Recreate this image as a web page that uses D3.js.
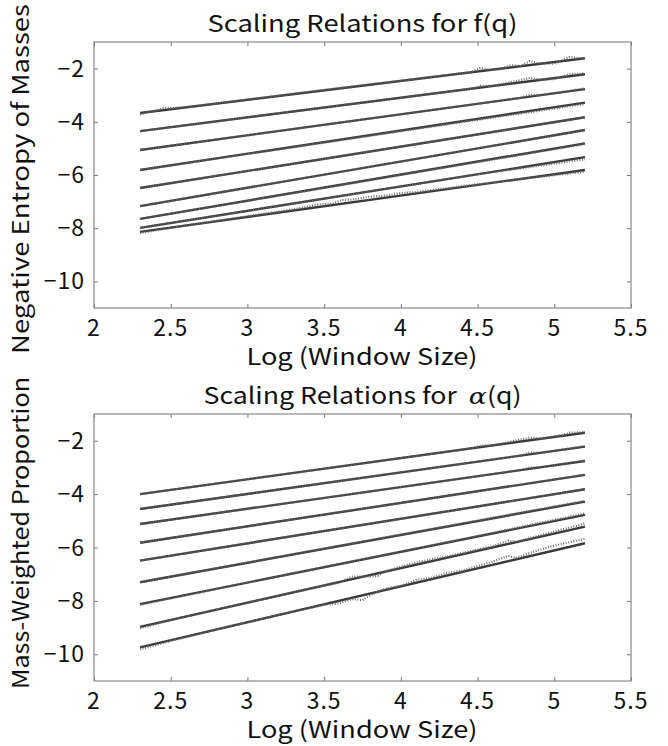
<!DOCTYPE html>
<html lang="en">

<head>
  <meta charset="UTF-8" />
  <title>Scaling relations</title>
  <script src="https://d3js.org/d3.v7.min.js"></script>
  <style>
    * {
      margin: 0;
      padding: 0;
    }

    body {
      background: #fff;
    }

    text {
      font-family: "Noto Sans CJK JP", "Noto Sans", sans-serif;
      fill: #111;
    }
  </style>
</head>

<body>
  <script>
    // x ticks / y ticks shared by both panels
    const xTicks = [2, 2.5, 3, 3.5, 4, 4.5, 5, 5.5];
    const yTicks = [-10, -8, -6, -4, -2];
    const xStart = 2.3, xEnd = 5.2;

    // fitted lines: [value at x=2.3, value at x=5.2]
    const fitF = [[-3.67, -1.61], [-4.35, -2.21], [-5.06, -2.77], [-5.81, -3.28], [-6.49, -3.83],
                  [-7.17, -4.31], [-7.65, -4.81], [-7.99, -5.33], [-8.14, -5.81]];
    const fitA = [[-4.00, -1.70], [-4.56, -2.22], [-5.12, -2.76], [-5.82, -3.28], [-6.49, -3.82],
                  [-7.30, -4.28], [-8.12, -4.78], [-8.97, -5.22], [-9.74, -5.84]];

    const obsF = [
      [[2.3, -0.05], [2.4, 0.02], [2.45, 0.08], [2.5, 0.05], [2.6, 0], [3.5, 0.02], [4.45, 0], [4.52, 0.12], [4.58, 0],
       [4.65, -0.02], [4.72, 0.08], [4.78, 0], [4.84, 0.15], [4.9, 0.02], [5.0, -0.06], [5.1, 0.12], [5.15, 0.05], [5.2, 0]],
      [[2.3, 0], [4.45, 0], [4.52, 0.06], [4.6, 0], [4.84, 0.12], [4.92, 0], [5.0, -0.04], [5.1, 0.08], [5.2, 0.02]],
      [[2.3, 0], [4.78, 0], [4.84, 0.07], [4.92, 0], [5.2, 0.03]],
      [[2.3, 0], [5.2, -0.05]],
      [[2.3, 0], [5.2, 0]],
      [[2.3, 0], [5.2, 0]],
      [[2.3, 0], [5.2, -0.03]],
      [[2.3, 0], [4.5, 0], [5.2, -0.08]],
      [[2.3, -0.04], [2.6, 0], [3.0, 0.03], [3.3, 0.05], [3.45, 0.1], [3.55, 0.06], [3.62, 0.14], [3.7, 0.1], [3.8, 0.12],
       [3.9, 0.08], [4.0, 0.1], [4.1, 0.05], [4.3, 0.04], [4.6, 0.02], [4.9, -0.02], [5.2, -0.07]]
    ];
    const obsA = [
      [[2.3, 0], [4.45, 0], [4.52, 0.05], [4.6, 0], [4.84, 0.1], [4.92, 0], [5.05, 0.03], [5.1, 0.08], [5.2, 0.02]],
      [[2.3, 0], [4.78, 0], [4.84, 0.07], [4.92, 0], [5.2, 0.02]],
      [[2.3, 0], [4.78, 0], [4.84, 0.05], [4.92, 0], [5.2, 0.02]],
      [[2.3, 0], [5.2, 0]],
      [[2.3, 0], [5.2, 0]],
      [[2.3, 0], [5.2, 0.03]],
      [[2.3, -0.03], [3.0, 0], [4.5, 0.02], [5.2, 0.06]],
      [[2.3, -0.05], [2.6, 0], [3.4, 0], [3.6, -0.03], [3.68, 0.1], [3.75, 0], [3.85, -0.1], [3.9, 0.02], [4.1, 0.08],
       [4.3, 0.05], [4.6, 0.05], [4.7, 0.12], [4.75, 0.02], [4.9, 0.05], [5.2, 0.12]],
      [[2.3, -0.08], [2.5, -0.03], [2.8, 0], [3.2, 0], [3.5, -0.02], [3.6, -0.1], [3.68, -0.05], [3.75, -0.18], [3.8, -0.06],
       [3.9, 0.05], [4.0, 0.02], [4.1, 0.1], [4.2, 0.05], [4.3, 0.1], [4.4, 0.05], [4.6, 0.12], [4.7, 0.2], [4.75, 0.05],
       [4.9, 0.15], [5.0, 0.18], [5.2, 0.17]]
    ];

    const [w, h] = [668, 746];
    const [left, right] = [94, 631];

    const svg = d3.select('body').append('svg')
      .attr('width', w)
      .attr('height', h);

    const xScale = d3.scaleLinear().domain([2, 5.5]).range([left, right]);

    function panel(top, bottom, title, titleLen, ylabel, ylabelLen, ylabelY, fits, obs) {
      const yScale = d3.scaleLinear().domain([-11, -1]).range([bottom, top]);
      const g = svg.append('g');

      // box axes with inward ticks (all four sides)
      const tick = 4;
      const axStyle = sel => {
        sel.select('.domain').remove();
        sel.selectAll('.tick line').attr('stroke', '#777');
        sel.selectAll('.tick text').remove();
      };
      g.append('g').attr('transform', `translate(0,${bottom})`)
        .call(d3.axisBottom(xScale).tickValues(xTicks).tickSize(-tick)).call(axStyle);
      g.append('g').attr('transform', `translate(0,${top})`)
        .call(d3.axisTop(xScale).tickValues(xTicks).tickSize(-tick)).call(axStyle);
      g.append('g').attr('transform', `translate(${left},0)`)
        .call(d3.axisLeft(yScale).tickValues(yTicks).tickSize(-tick)).call(axStyle);
      g.append('g').attr('transform', `translate(${right},0)`)
        .call(d3.axisRight(yScale).tickValues(yTicks).tickSize(-tick)).call(axStyle);

      g.append('rect')
        .attr('x', left).attr('y', top)
        .attr('width', right - left).attr('height', bottom - top)
        .attr('fill', 'none').attr('stroke', '#888').attr('stroke-width', 1.2);

      // tick labels
      g.selectAll('.xl').data(xTicks).join('text')
        .attr('x', d => xScale(d)).attr('y', bottom + 28)
        .attr('text-anchor', 'middle').style('font-size', '23px')
        .style('letter-spacing', '1px')
        .text(d => d);
      g.selectAll('.yl').data(yTicks).join('text')
        .attr('x', left - 9).attr('y', d => yScale(d) + 8)
        .attr('text-anchor', 'end').style('font-size', '23px')
        .style('letter-spacing', '1px')
        .text(d => '\u2212' + Math.abs(d));

      // lines
      const line = d3.line().x(d => xScale(d[0])).y(d => yScale(d[1]));
      fits.forEach((f, i) => {
        const fitAt = x => f[0] + (f[1] - f[0]) * (x - xStart) / (xEnd - xStart);
        g.append('path')
          .attr('d', line([[xStart, f[0]], [xEnd, f[1]]]))
          .attr('fill', 'none').attr('stroke', '#3a3a3a').attr('stroke-width', 2.4);
        g.append('path')
          .attr('d', line(obs[i].map(p => [p[0], fitAt(p[0]) + p[1]])))
          .attr('fill', 'none').attr('stroke', '#6a6a6a').attr('stroke-width', 2.2)
          .attr('stroke-dasharray', '1,1.6');
      });

      // titles
      const cx = (left + right) / 2;
      g.append('text')
        .attr('x', cx - titleLen / 2).attr('y', top - 10)
        .attr('textLength', titleLen).attr('lengthAdjust', 'spacingAndGlyphs')
        .style('font-size', '23px')
        .html(title);
      g.append('text')
        .attr('x', cx - 116).attr('y', bottom + 57)
        .attr('textLength', 231).attr('lengthAdjust', 'spacingAndGlyphs')
        .style('font-size', '23px')
        .text('Log (Window Size)');
      g.append('text')
        .attr('transform', `translate(29,${ylabelY + ylabelLen}) rotate(-90)`)
        .attr('textLength', ylabelLen).attr('lengthAdjust', 'spacingAndGlyphs')
        .style('font-size', '23px')
        .text(ylabel);
    }

    panel(42, 308, 'Scaling Relations for f(q)', 310, 'Negative Entropy of Masses', 350, 4, fitF, obsF);
    panel(414, 681, 'Scaling Relations for&#160;&#160;<tspan font-style="italic" font-family="DejaVu Serif">&#945;</tspan>(q)', 318,
      'Mass-Weighted Proportion', 312, 377, fitA, obsA);
  </script>
</body>

</html>
